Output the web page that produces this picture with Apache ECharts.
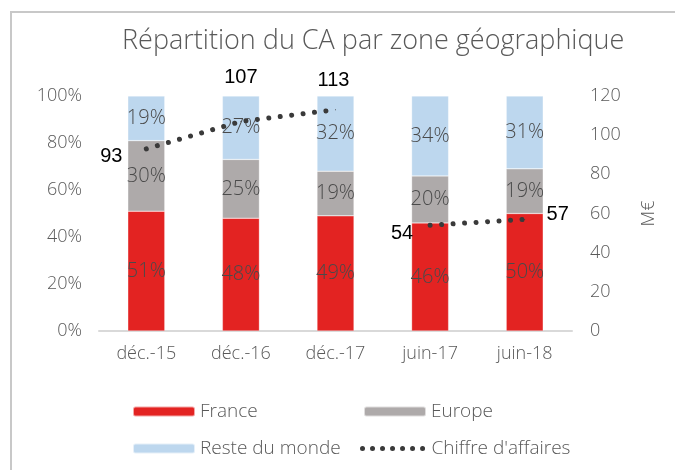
<!DOCTYPE html>
<html lang="fr">

<head>
    <meta charset="UTF-8">
    <script src="https://cdn.jsdelivr.net/npm/echarts@6/dist/echarts.min.js"></script>
    <title>Répartition du CA</title>
    <style>
        body { margin: 0; background: #fff; }
        #main { width: 675px; height: 470px; }
    </style>
</head>

<body>
    <div id="main"></div>
    <script>
        // données
        var periodes = ['déc.-15', 'déc.-16', 'déc.-17', 'juin-17', 'juin-18'];
        var france = [51, 48, 49, 46, 50];
        var europe = [30, 25, 19, 20, 19];
        var resteMonde = [19, 27, 32, 34, 31];
        var caAnnuel = [93, 107, 113, null, null];
        var caSemestre = [null, null, null, 54, 57];

        // décalage des étiquettes du CA (position uniquement)
        var decalages = [[-35, 8], [0, -44], [-2, -29], [-28, 8], [33, -5]];

        var gris = '#595959';
        var police = 'Open Sans';
        var pointille = { color: '#3a3a3a', width: 5, type: [0.01, 11.5], cap: 'round' };

        function lineData(vals) {
            return vals.map(function (v, i) {
                if (v == null) return '-';
                return { value: v, label: { offset: decalages[i] } };
            });
        }

        function barSerie(name, data, color) {
            return {
                name: name,
                type: 'bar',
                stack: 'zone',
                barWidth: 37,
                data: data,
                itemStyle: { color: color, borderColor: 'rgba(255,255,255,0.6)', borderWidth: 0.5 },
                label: {
                    show: true,
                    position: 'inside',
                    formatter: '{c}%',
                    color: '#4a4a4a',
                    fontFamily: police,
                    fontWeight: 300,
                    fontSize: 20
                }
            };
        }

        function lineSerie(data) {
            return {
                name: "Chiffre d'affaires",
                type: 'line',
                yAxisIndex: 1,
                data: lineData(data),
                symbol: 'circle',
                symbolSize: 1,
                itemStyle: { color: '#3a3a3a' },
                lineStyle: pointille,
                label: {
                    show: true,
                    position: 'inside',
                    color: '#000',
                    fontFamily: 'Liberation Sans Narrow, Liberation Sans, sans-serif',
                    fontSize: 20
                },
                z: 5
            };
        }

        var legendText = { color: gris, fontFamily: police, fontWeight: 300, fontSize: 19 };
        var axisText = { color: gris, fontFamily: police, fontWeight: 300, fontSize: 18 };

        var chart = echarts.init(document.getElementById('main'));
        chart.setOption({
            animation: false,
            textStyle: { fontFamily: police },
            title: {
                text: 'Répartition du CA par zone géographique',
                left: 117,
                top: 23,
                textStyle: { color: gris, fontFamily: police, fontSize: 27, fontWeight: 300 }
            },
            graphic: [{
                type: 'rect',
                shape: { x: 11, y: 12, width: 700, height: 500 },
                style: { fill: 'none', stroke: '#c8c8c8', lineWidth: 2 },
                silent: true
            }],
            legend: [
                { data: ['France'], left: 127, top: 397, itemWidth: 62, itemHeight: 10, textStyle: legendText },
                { data: ['Europe'], left: 358, top: 397, itemWidth: 62, itemHeight: 10, textStyle: legendText },
                { data: ['Reste du monde'], left: 127, top: 434, itemWidth: 62, itemHeight: 10, textStyle: legendText },
                {
                    data: ["Chiffre d'affaires"], left: 355, top: 434, itemWidth: 64, itemHeight: 10,
                    itemStyle: { opacity: 0 },
                    lineStyle: { color: '#3a3a3a', width: 5, type: [0.01, 10], cap: 'round' },
                    textStyle: legendText
                }
            ],
            grid: { left: 99, right: 103, top: 96, bottom: 139 },
            xAxis: {
                type: 'category',
                data: periodes,
                axisLine: { lineStyle: { color: '#d9d9d9', width: 2 } },
                axisTick: { show: false },
                axisLabel: Object.assign({ margin: 14 }, axisText)
            },
            yAxis: [{
                type: 'value',
                min: 0,
                max: 100,
                interval: 20,
                axisLine: { show: false },
                splitLine: { show: false },
                axisLabel: Object.assign({ margin: 17, formatter: '{value}%' }, axisText)
            }, {
                type: 'value',
                min: 0,
                max: 120,
                interval: 20,
                name: 'M€',
                nameLocation: 'middle',
                nameGap: 68,
                nameRotate: 90,
                nameTextStyle: axisText,
                axisLine: { show: false },
                splitLine: { show: false },
                axisLabel: Object.assign({ margin: 18 }, axisText)
            }],
            series: [
                barSerie('France', france, '#e32322'),
                barSerie('Europe', europe, '#aeaaaa'),
                barSerie('Reste du monde', resteMonde, '#bdd7ee'),
                lineSerie(caAnnuel),
                lineSerie(caSemestre)
            ]
        });
    </script>
</body>

</html>
